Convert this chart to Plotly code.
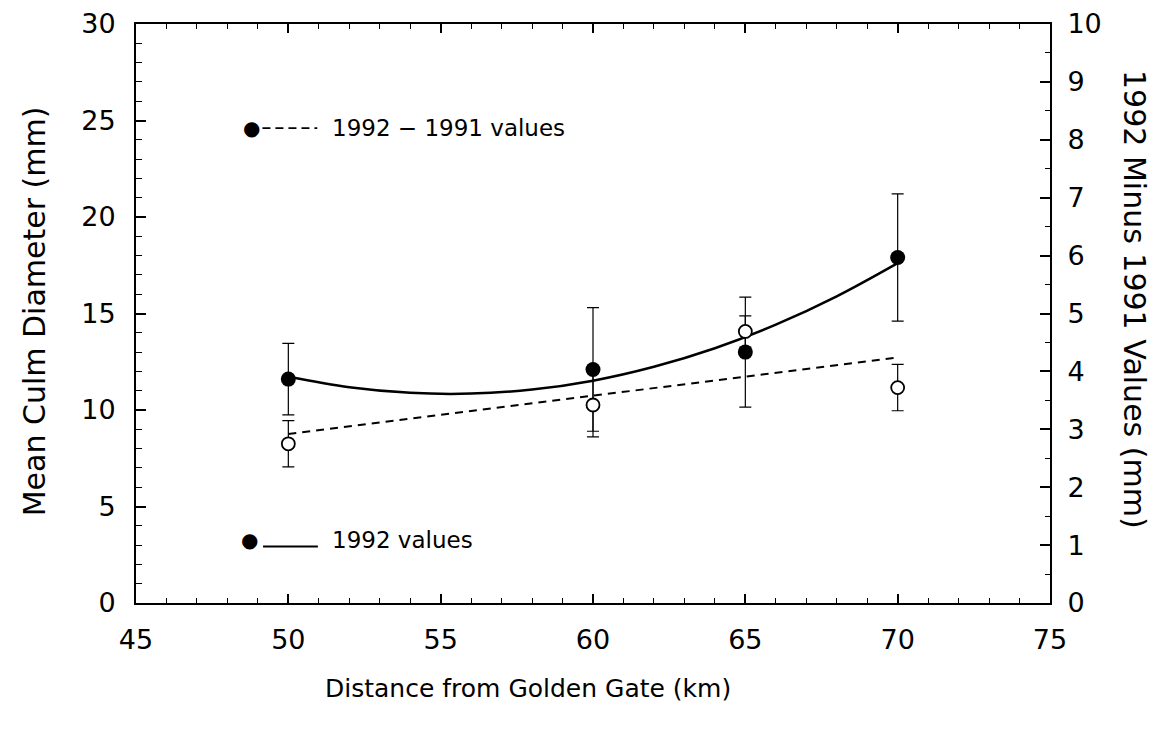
import plotly.graph_objects as go

# ---- data ----
distance_km = [50, 60, 65, 70]
values_1992 = [11.6, 12.1, 13.0, 17.9]          # left axis (mm)
err_1992 = [1.85, 3.2, 2.85, 3.3]
diff_92_91 = [2.75, 3.42, 4.69, 3.72]           # right axis (mm)
err_diff = [0.4, 0.55, 0.27, 0.4]

# fitted curve of 1992 values
fit1992_x = [50, 52, 54, 56, 58, 60, 62, 64, 66, 68, 70]
fit1992_y = [11.72, 11.18, 10.89, 10.85, 11.06, 11.52, 12.24, 13.20, 14.42, 15.89, 17.61]
# fitted line of 1992-1991 differences
fitdiff_x = [50, 70]
fitdiff_y = [2.92, 4.24]

x_ticks = [45, 50, 55, 60, 65, 70, 75]
y_left_ticks = [0, 5, 10, 15, 20, 25, 30]
y_right_ticks = list(range(0, 11))

FONT = "DejaVu Sans"
BLACK = "#000000"

fig = go.Figure()

# fit lines
fig.add_trace(go.Scatter(x=fitdiff_x, y=fitdiff_y, mode="lines", yaxis="y2",
                         line=dict(color=BLACK, width=2, dash="8px,6px"),
                         showlegend=False, hoverinfo="skip"))
fig.add_trace(go.Scatter(x=fit1992_x, y=fit1992_y, mode="lines",
                         line=dict(color=BLACK, width=2.5, shape="spline"),
                         showlegend=False, hoverinfo="skip"))

# open circles: 1992 - 1991 values (right axis)
fig.add_trace(go.Scatter(x=distance_km, y=diff_92_91, mode="markers", yaxis="y2",
                         marker=dict(symbol="circle", size=13, color="white",
                                     line=dict(color=BLACK, width=1.8)),
                         error_y=dict(type="data", array=err_diff, visible=True,
                                      color=BLACK, thickness=1.2, width=6),
                         showlegend=False))
# filled circles: 1992 values (left axis)
fig.add_trace(go.Scatter(x=distance_km, y=values_1992, mode="markers",
                         marker=dict(symbol="circle", size=15, color=BLACK),
                         error_y=dict(type="data", array=err_1992, visible=True,
                                      color=BLACK, thickness=1.2, width=6),
                         showlegend=False))

axis_common = dict(showgrid=False, zeroline=False, showline=True, linecolor=BLACK,
                   linewidth=2, ticks="inside", tickcolor=BLACK, tickwidth=1.5,
                   automargin=False, ticklabeloverflow="allow",
                   tickfont=dict(family=FONT, size=27, color=BLACK))

# page body has an 8px margin, so the figure is sized/offset to compensate
fig.update_layout(
    width=1161, height=714,
    margin=dict(l=128, r=119, t=16, b=119),
    paper_bgcolor="white", plot_bgcolor="white",
    showlegend=False,
    xaxis=dict(range=[45, 75], tickvals=x_ticks, ticklen=9, mirror="ticks",
               minor=dict(dtick=1, ticks="inside", ticklen=5, tickcolor=BLACK, tickwidth=1),
               ticklabelstandoff=12, **axis_common),
    yaxis=dict(range=[0, 30], tickvals=y_left_ticks, ticklen=10,
               minor=dict(dtick=1, ticks="inside", ticklen=6, tickcolor=BLACK, tickwidth=1),
               ticklabelstandoff=13, **axis_common),
    yaxis2=dict(range=[0, 10], tickvals=y_right_ticks, ticklen=10, overlaying="y",
                side="right", anchor="x",
                minor=dict(dtick=0.5, ticks="inside", ticklen=5, tickcolor=BLACK, tickwidth=1),
                ticklabelstandoff=10, **axis_common),
)

# axis titles
fig.add_annotation(text="Distance from Golden Gate (km)", xref="paper", yref="paper",
                   x=0.429, y=-0.147, showarrow=False, xanchor="center", yanchor="middle",
                   font=dict(family=FONT, size=25, color=BLACK))
fig.add_annotation(text="Mean Culm Diameter (mm)", xref="paper", yref="paper",
                   x=-0.111, y=0.503, showarrow=False, textangle=-90,
                   xanchor="center", yanchor="middle",
                   font=dict(family=FONT, size=30, color=BLACK))
fig.add_annotation(text="1992 Minus 1991 Values (mm)", xref="paper", yref="paper",
                   x=1.093, y=0.525, showarrow=False, textangle=90,
                   xanchor="center", yanchor="middle",
                   font=dict(family=FONT, size=30, color=BLACK))

# in-plot legend entries
leg_font = dict(family=FONT, size=23, color=BLACK)
# entry 1: 1992 - 1991 values (dashed)
fig.add_annotation(text="●", x=48.8, y=24.6, xref="x", yref="y", showarrow=False,
                   font=dict(family=FONT, size=20, color=BLACK))
fig.add_shape(type="line", x0=49.15, x1=50.95, y0=24.6, y1=24.6, xref="x", yref="y",
              line=dict(color=BLACK, width=1.8, dash="8px,5px"))
fig.add_annotation(text="1992 − 1991 values", x=51.37, y=24.6, xref="x", yref="y",
                   showarrow=False, xanchor="left", yanchor="middle", font=leg_font)
# entry 2: 1992 values (solid)
fig.add_annotation(text="●", x=48.71, y=3.24, xref="x", yref="y", showarrow=False,
                   font=dict(family=FONT, size=20, color=BLACK))
fig.add_shape(type="line", x0=49.17, x1=50.97, y0=2.93, y1=2.93, xref="x", yref="y",
              line=dict(color=BLACK, width=2))
fig.add_annotation(text="1992 values", x=51.37, y=3.24, xref="x", yref="y",
                   showarrow=False, xanchor="left", yanchor="middle", font=leg_font)

fig.write_html("out.html")
